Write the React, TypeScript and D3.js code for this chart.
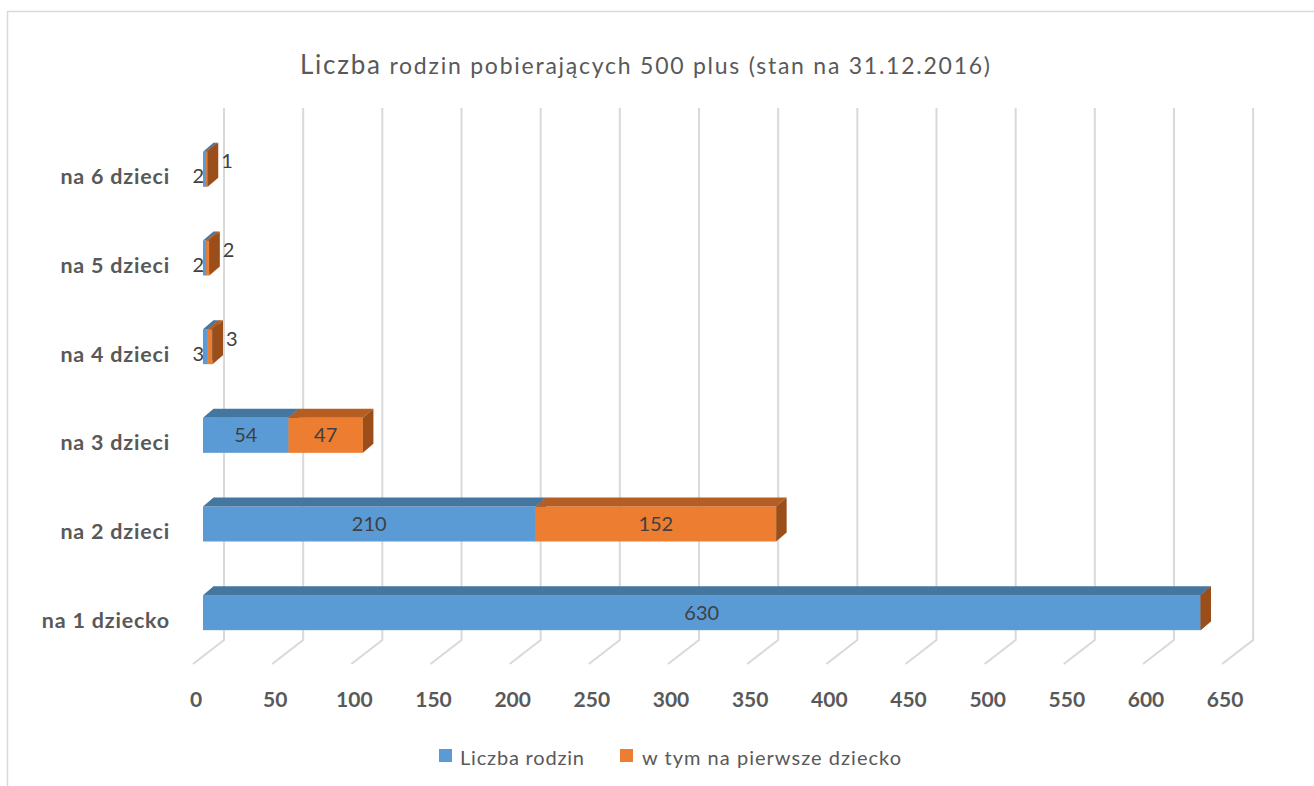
import React from "react";
import * as d3 from "d3";

const categories = ["na 1 dziecko", "na 2 dzieci", "na 3 dzieci", "na 4 dzieci", "na 5 dzieci", "na 6 dzieci"];
const liczbaRodzin = [630, 210, 54, 3, 2, 2];
const naPierwsze = [0, 152, 47, 3, 2, 1];
const seriesNames = ["Liczba rodzin", "w tym na pierwsze dziecko"];
const xTicks = [0, 50, 100, 150, 200, 250, 300, 350, 400, 450, 500, 550, 600, 650];
const title = ["Liczba", " rodzin pobierających 500 plus (stan na 31.12.2016)"];

const W = 1314;
const H = 786;
const FONT = "Lato, 'Open Sans', sans-serif";

const colors = [
  { front: "#5B9BD5", top: "#44769F", side: "#3E6C95" },
  { front: "#ED7D31", top: "#B55D22", side: "#9C4E1A" },
];

export default function App() {
  const x = d3.scaleLinear().domain([0, 650]).range([203, 203 + 650 * 1.5833]);
  const y = d3.scalePoint<string>().domain(categories).range([657, 125]).padding(0.5);
  const barH = 35;
  const bdx = 10.5;
  const bdy = 9;
  const backDx = 21;
  const frontDx = -10;
  const backTop = 108;
  const backBottom = 640;
  const floorFront = 664;

  const series = [liczbaRodzin, naPierwsze];

  const bars: React.ReactNode[] = [];
  const labels: React.ReactNode[] = [];
  categories.forEach((c, i) => {
    const cy = (y(c) as number) - barH / 2;
    let acc = 0;
    series.forEach((s, si) => {
      const v = s[i];
      const x0 = x(acc);
      const x1 = x(acc + v);
      acc += v;
      const col = colors[si];
      const top = [
        [x0, cy],
        [x0 + bdx, cy - bdy],
        [x1 + bdx, cy - bdy],
        [x1, cy],
      ];
      const side = [
        [x1, cy],
        [x1 + bdx, cy - bdy],
        [x1 + bdx, cy + barH - bdy],
        [x1, cy + barH],
      ];
      bars.push(
        <g key={`b${i}-${si}`}>
          {v > 0 && <rect x={x0} y={cy} width={x1 - x0} height={barH} fill={col.front} />}
          {v > 0 && <polygon points={top.map((p) => p.join(",")).join(" ")} fill={col.top} />}
          <polygon points={side.map((p) => p.join(",")).join(" ")} fill={col.side} />
        </g>
      );
      if (v > 0) {
        const small = x1 - x0 < 20;
        let lx = (x0 + x1) / 2;
        let ly = cy + barH / 2 + 7;
        let anchor: "middle" | "end" | "start" = "middle";
        if (small) {
          if (si === 0) {
            lx = x0 + 1;
            ly = cy + barH / 2 + 14;
            anchor = "end";
          } else {
            lx = x1 + bdx + 3;
            ly = cy + barH / 2 - 1;
            anchor = "start";
          }
        }
        labels.push(
          <text key={`l${i}-${si}`} x={lx} y={ly} textAnchor={anchor} fontSize={20} fill="#404040" fontFamily={FONT}>
            {v}
          </text>
        );
      }
    });
  });

  return (
    <svg width={W} height={H} style={{ position: "absolute", left: 0, top: 0, background: "#fff" }}>
      <rect x={7.5} y={11.5} width={W + 20} height={H + 20} fill="#fff" stroke="#d9d9d9" strokeWidth={1.5} />
      <text x={300} y={74} textLength={690} lengthAdjust="spacing" fill="#595959" fontFamily={FONT} fontSize={23}>
        <tspan fontSize={26}>{title[0]}</tspan>
        <tspan>{title[1]}</tspan>
      </text>
      <g>
        {xTicks.map((t) => (
          <path
            key={t}
            d={`M${x(t) + backDx},${backTop} L${x(t) + backDx},${backBottom} L${x(t) + frontDx},${floorFront}`}
            fill="none"
            stroke="#d9d9d9"
            strokeWidth={2}
          />
        ))}
      </g>
      <g>
        {xTicks.map((t) => (
          <text key={t} x={x(t) + frontDx + 3} y={707} textAnchor="middle" fill="#595959" fontFamily={FONT} fontWeight="bold" fontSize={21}>
            {t}
          </text>
        ))}
      </g>
      <g>
        {categories.map((c) => (
          <text key={c} x={170} y={(y(c) as number) + 15} textAnchor="end" fill="#595959" fontFamily={FONT} fontWeight="bold" fontSize={21.5} letterSpacing={0.8}>
            {c}
          </text>
        ))}
      </g>
      {bars}
      {labels}
      <g fontFamily={FONT} fontSize={20} fill="#595959">
        <rect x={439} y={749} width={13} height={13} fill={colors[0].front} />
        <text x={460} y={765} textLength={124} lengthAdjust="spacing">{seriesNames[0]}</text>
        <rect x={620} y={749} width={13} height={13} fill={colors[1].front} />
        <text x={642} y={765} textLength={259} lengthAdjust="spacing">{seriesNames[1]}</text>
      </g>
    </svg>
  );
}
